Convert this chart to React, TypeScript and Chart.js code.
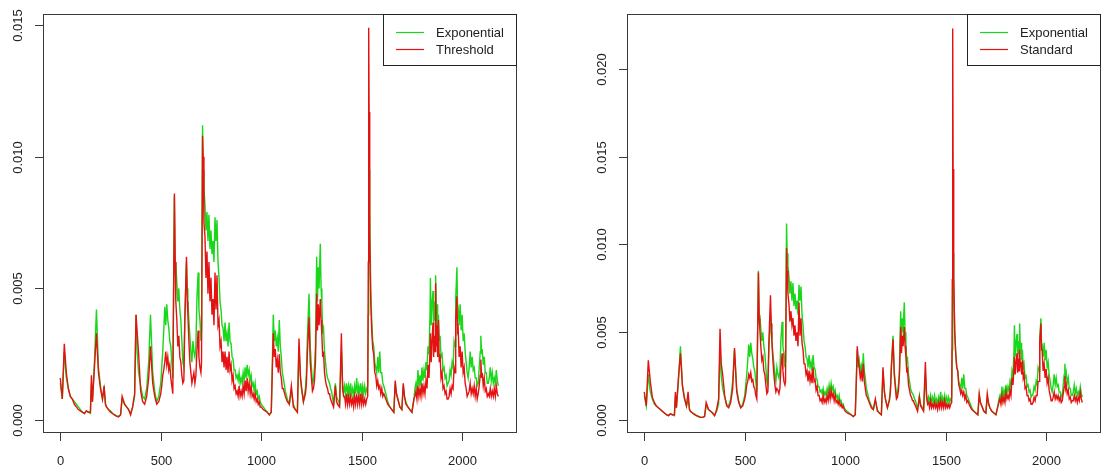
import React, { useEffect, useRef } from "react";
import { Chart, registerables } from "chart.js";

Chart.register(...registerables);

// values are read in units of 1e-4
const UNIT = 1e-4;

const tIdx = [
  0, 10, 20, 30, 40, 50, 60, 70, 80, 90,
  100, 110, 120, 130, 140, 150, 155, 160, 170, 180,
  190, 200, 210, 218, 225, 230, 240, 250, 260, 270,
  280, 290, 300, 308, 320, 330, 340, 350, 360, 370,
  377, 383, 390, 400, 410, 420, 430, 440, 449, 460,
  470, 480, 490, 500, 505, 510, 515, 520, 525, 530,
  535, 540, 545, 550, 555, 560, 568, 572, 575, 580,
  585, 590, 595, 600, 605, 610, 615, 620, 628, 632,
  635, 640, 645, 650, 655, 660, 665, 670, 675, 680,
  686, 690, 695, 700, 703, 708, 711, 715, 720, 725,
  730, 735, 740, 745, 750, 755, 760, 765, 770, 775,
  780, 785, 790, 795, 800, 805, 810, 815, 820, 825,
  830, 835, 840, 845, 850, 855, 860, 865, 870, 875,
  880, 885, 890, 895, 900, 905, 910, 915, 920, 925,
  930, 935, 940, 945, 950, 955, 960, 965, 970, 975,
  980, 985, 990, 995, 1000, 1010, 1020, 1030, 1040, 1050,
  1055, 1060, 1065, 1070, 1075, 1080, 1085, 1090, 1095, 1100,
  1105, 1110, 1120, 1130, 1140, 1150, 1160, 1170, 1180, 1188,
  1195, 1200, 1210, 1220, 1225, 1230, 1238, 1244, 1250, 1255,
  1260, 1265, 1270, 1276, 1280, 1284, 1288, 1294, 1298, 1302,
  1306, 1310, 1315, 1320, 1325, 1330, 1335, 1340, 1345, 1350,
  1360, 1369, 1375, 1380, 1390, 1399, 1405, 1410, 1415, 1420,
  1425, 1430, 1435, 1440, 1445, 1450, 1455, 1460, 1465, 1470,
  1475, 1480, 1485, 1490, 1495, 1500, 1505, 1510, 1515, 1520,
  1525, 1530, 1533, 1535, 1537, 1540, 1545, 1550, 1555, 1560,
  1565, 1570, 1575, 1580, 1585, 1590, 1595, 1600, 1605, 1610,
  1620, 1630, 1640, 1650, 1660, 1667, 1673, 1680, 1690, 1700,
  1707, 1713, 1720, 1730, 1740, 1750, 1760, 1765, 1770, 1775,
  1780, 1785, 1790, 1795, 1800, 1805, 1810, 1815, 1820, 1825,
  1830, 1835, 1840, 1842, 1846, 1850, 1855, 1858, 1862, 1865,
  1868, 1872, 1875, 1878, 1882, 1886, 1890, 1895, 1900, 1905,
  1910, 1915, 1920, 1925, 1930, 1935, 1940, 1945, 1950, 1955,
  1960, 1965, 1968, 1974, 1977, 1980, 1985, 1990, 1995, 2000,
  2005, 2010, 2015, 2020, 2025, 2030, 2035, 2040, 2045, 2050,
  2055, 2060, 2065, 2070, 2075, 2080, 2085, 2090, 2093, 2097,
  2100, 2105, 2110, 2115, 2120, 2125, 2130, 2135, 2140, 2145,
  2150, 2155, 2160, 2165, 2170, 2175, 2180,
];

const expVals = [
  14, 8, 26, 16, 12, 9, 8, 7, 6, 5,
  4, 3, 2.5, 3.5, 3, 2.5, 14, 7, 22, 42,
  20, 13, 8, 12, 6, 5, 4, 3.5, 2.5, 2,
  1.5, 1.5, 2, 8, 6, 5, 4, 2.5, 5, 9,
  40, 25, 18, 13, 9, 8, 12, 22, 40, 18,
  11, 7, 9, 14, 20, 26, 34, 43, 36, 44,
  38, 35, 30, 28, 22, 16, 85, 55, 60, 52,
  45, 50, 42, 38, 30, 22, 20, 40, 60, 50,
  45, 38, 32, 26, 22, 30, 26, 24, 28, 46,
  56, 42, 38, 30, 34, 112, 95, 88, 82, 72,
  79, 68, 78, 65, 72, 63, 68, 60, 77, 68,
  76, 60, 54, 45, 42, 36, 35, 30, 37, 30,
  33, 28, 37, 30, 29, 24, 23, 19, 19, 16,
  17, 15, 18, 14, 16, 14, 18, 15, 20, 16,
  21, 17, 19, 15, 17, 13, 14, 11, 14, 10,
  11, 8, 9, 7, 6, 5, 4, 3, 2, 3,
  20, 40, 30, 34, 28, 31, 26, 38, 28, 24,
  18, 16, 11, 8, 6, 11, 6, 4, 3, 28,
  16, 12, 7, 12, 18, 32, 48, 28, 20, 14,
  15, 20, 28, 62, 45, 58, 50, 67, 50, 44,
  34, 35, 26, 22, 18, 16, 15, 14, 12, 11,
  6, 14, 9, 8, 6, 26, 14, 10, 13, 10,
  14, 10, 13, 10, 14, 10, 12, 9, 13, 10,
  16, 10, 13, 10, 14, 10, 13, 10, 13, 10,
  12, 13, 40, 110, 95, 80, 50, 38, 30, 28,
  22, 20, 18, 24, 18, 26, 18, 18, 14, 13,
  10, 7, 5, 4, 3, 14, 10, 8, 5, 4,
  13, 9, 7, 5, 4, 3, 8, 12, 14, 11,
  19, 13, 17, 13, 20, 15, 19, 16, 22, 19,
  28, 25, 40, 54, 36, 44, 49, 36, 45, 38,
  55, 40, 44, 34, 40, 30, 32, 24, 25, 19,
  20, 16, 17, 13, 14, 15, 19, 17, 22, 20,
  30, 28, 46, 58, 44, 43, 36, 44, 34, 40,
  30, 33, 26, 22, 18, 16, 20, 26, 20, 24,
  19, 20, 16, 16, 13, 14, 20, 26, 32, 25,
  27, 21, 24, 18, 18, 14, 14, 16, 20, 15,
  18, 14, 16, 14, 19, 15, 13,
];

const thrVals = [
  16, 8, 29, 18, 12, 9, 8, 6, 5, 4,
  3.5, 3, 2.5, 3.5, 3, 3, 17, 7, 20, 33,
  18, 12, 8, 13, 6, 5, 4, 3, 2.5, 2,
  1.5, 1.2, 2, 9, 6, 5, 4, 2, 5, 10,
  40, 33, 25, 11, 7, 6, 9, 16, 28, 14,
  9, 6, 7, 10, 13, 17, 19, 22, 26, 21,
  24, 19, 21, 16, 13, 10, 86, 60, 45, 38,
  28, 32, 24, 22, 17, 14, 15, 38, 62, 45,
  40, 30, 22, 18, 14, 16, 18, 14, 17, 26,
  34, 24, 20, 18, 22, 108, 100, 75, 70, 54,
  64, 48, 60, 45, 54, 40, 46, 36, 56, 42,
  55, 36, 38, 28, 30, 22, 26, 20, 26, 19,
  24, 18, 26, 19, 21, 15, 17, 12, 13, 10,
  11, 9, 13, 9, 11, 9, 13, 10, 15, 11,
  16, 11, 14, 10, 13, 9, 10, 8, 10, 7,
  8, 6, 7, 5, 5, 4, 3.5, 3, 2, 3,
  18, 33, 24, 27, 20, 23, 18, 25, 18, 16,
  12, 12, 9, 7, 6, 13, 5, 4, 3, 31,
  17, 13, 7, 10, 14, 26, 39, 22, 16, 11,
  12, 15, 22, 48, 34, 44, 36, 46, 38, 32,
  24, 26, 18, 15, 13, 12, 10, 10, 8, 7,
  5, 13, 7, 6, 5, 33, 12, 9, 9, 6,
  10, 6, 9, 6, 9, 6, 8, 5, 9, 6,
  10, 6, 9, 6, 10, 6, 9, 6, 8, 6,
  8, 9, 60, 149, 117, 70, 45, 34, 27, 25,
  18, 17, 13, 15, 12, 13, 10, 12, 9, 10,
  8, 6, 5, 4, 3, 15, 10, 8, 5, 4,
  14, 9, 6, 5, 4, 3, 8, 9, 11, 8,
  13, 9, 12, 9, 14, 10, 13, 10, 15, 12,
  21, 16, 26, 33, 22, 30, 37, 24, 32, 26,
  52, 28, 36, 24, 38, 22, 25, 16, 18, 12,
  13, 10, 11, 8, 8, 9, 12, 10, 13, 12,
  20, 18, 38, 47, 34, 35, 24, 28, 20, 26,
  18, 20, 14, 12, 9, 10, 11, 14, 10, 12,
  10, 13, 9, 12, 8, 10, 13, 17, 23, 16,
  18, 13, 16, 11, 12, 9, 10, 9, 12, 9,
  11, 9, 12, 9, 13, 10, 9,
];

const stdVals = [
  16, 8, 34, 22, 13, 10, 8, 7, 6, 5,
  4, 3, 2.5, 3.5, 3, 3, 16, 7, 24, 38,
  19, 12, 8, 16, 6, 5, 4, 3, 2.5, 2,
  1.5, 1.5, 2, 10, 6, 5, 4, 2.5, 6, 12,
  52, 32, 26, 14, 8, 7, 10, 18, 41, 16,
  10, 7, 8, 12, 15, 20, 22, 26, 24, 27,
  22, 23, 19, 18, 14, 12, 84, 58, 52, 42,
  34, 36, 28, 26, 20, 15, 16, 44, 71, 55,
  45, 34, 26, 20, 16, 18, 17, 15, 18, 30,
  38, 28, 22, 20, 22, 98, 85, 72, 66, 56,
  62, 54, 58, 48, 54, 45, 50, 42, 67, 48,
  58, 44, 40, 32, 32, 26, 28, 22, 28, 22,
  26, 21, 30, 22, 23, 17, 19, 14, 14, 11,
  12, 10, 14, 10, 12, 10, 14, 11, 16, 12,
  17, 13, 15, 11, 14, 10, 11, 9, 11, 8,
  9, 7, 8, 6, 5, 4, 3.5, 3, 2, 3,
  22, 42, 34, 30, 24, 27, 22, 32, 22, 18,
  14, 13, 10, 7, 6, 12, 5, 4, 3, 30,
  16, 12, 7, 11, 16, 30, 46, 26, 18, 12,
  13, 17, 26, 53, 38, 48, 42, 53, 42, 36,
  28, 29, 20, 17, 14, 13, 11, 11, 9, 8,
  5, 13, 8, 7, 5, 33, 13, 9, 10, 7,
  11, 7, 9, 7, 10, 7, 9, 6, 10, 7,
  11, 7, 10, 7, 11, 7, 9, 7, 9, 7,
  9, 10, 80, 223, 143, 82, 50, 38, 30, 28,
  20, 18, 15, 17, 14, 16, 12, 14, 10, 11,
  8, 6, 5, 4, 3, 15, 10, 8, 5, 4,
  15, 10, 7, 5, 4, 3, 8, 10, 12, 9,
  14, 10, 13, 10, 16, 12, 14, 12, 17, 14,
  24, 20, 30, 36, 26, 33, 38, 27, 35, 28,
  40, 30, 33, 26, 34, 24, 26, 18, 19, 14,
  14, 11, 12, 9, 9, 10, 13, 11, 14, 14,
  22, 22, 44, 55, 40, 40, 28, 32, 24, 29,
  21, 24, 17, 14, 11, 11, 13, 16, 12, 14,
  12, 14, 11, 13, 10, 11, 15, 19, 25, 18,
  20, 15, 17, 12, 13, 10, 11, 11, 14, 11,
  13, 10, 13, 11, 16, 12, 10,
];

const xTicks = [0, 500, 1000, 1500, 2000];
const xTickLabels = ["0", "500", "1000", "1500", "2000"];
const yTicksLeft = [0, 0.005, 0.01, 0.015];
const yTickLabelsLeft = ["0.000", "0.005", "0.010", "0.015"];
const yTicksRight = [0, 0.005, 0.01, 0.015, 0.02];
const yTickLabelsRight = ["0.000", "0.005", "0.010", "0.015", "0.020"];

const GREEN = "rgb(25,215,25)";
const RED = "rgb(228,18,18)";
const FRAME = "#3a3a3a";
const FONT = '13px "Liberation Sans", Arial, Helvetica, sans-serif';

function framePlugin(yTicks: number[], yLabels: string[], legendLabels: string[]) {
  return {
    id: "rframe",
    afterDatasetsDraw(chart: any) {
      const { ctx, chartArea: a, scales } = chart;
      const xs = scales.x;
      const ys = scales.y;
      ctx.save();
      ctx.strokeStyle = FRAME;
      ctx.lineWidth = 1;
      ctx.strokeRect(a.left + 0.5, a.top + 0.5, a.right - a.left - 1, a.bottom - a.top - 1);
      ctx.fillStyle = "#222";
      ctx.font = FONT;
      ctx.textAlign = "center";
      ctx.textBaseline = "middle";
      xTicks.forEach((v, i) => {
        const px = Math.round(xs.getPixelForValue(v)) + 0.5;
        ctx.beginPath();
        ctx.moveTo(px, a.bottom);
        ctx.lineTo(px, a.bottom + 8);
        ctx.stroke();
        ctx.fillText(xTickLabels[i], px, a.bottom + 28);
      });
      yTicks.forEach((v, i) => {
        const py = Math.round(ys.getPixelForValue(v)) + 0.5;
        ctx.beginPath();
        ctx.moveTo(a.left - 8, py);
        ctx.lineTo(a.left, py);
        ctx.stroke();
        ctx.save();
        ctx.translate(a.left - 25, py);
        ctx.rotate(-Math.PI / 2);
        ctx.fillText(yLabels[i], 0, 0);
        ctx.restore();
      });
      const lx = a.left + 340;
      const ly = a.top;
      const lw = a.right - lx;
      const lh = 52;
      ctx.fillStyle = "#fff";
      ctx.fillRect(lx, ly, lw, lh);
      ctx.strokeStyle = "#222";
      ctx.strokeRect(lx + 0.5, ly + 0.5, lw - 1, lh - 1);
      const cols = [GREEN, RED];
      legendLabels.forEach((lab, i) => {
        const yy = ly + 18 + i * 17;
        ctx.strokeStyle = cols[i];
        ctx.lineWidth = 1.2;
        ctx.beginPath();
        ctx.moveTo(lx + 13, yy + 0.5);
        ctx.lineTo(lx + 41, yy + 0.5);
        ctx.stroke();
        ctx.fillStyle = "#222";
        ctx.textAlign = "left";
        ctx.textBaseline = "middle";
        ctx.fillText(lab, lx + 53, yy + 1);
      });
      ctx.restore();
    },
  };
}

type PanelProps = {
  left: number;
  redVals: number[];
  redLabel: string;
  yMin: number;
  yMax: number;
  yTicks: number[];
  yLabels: string[];
};

function Panel({ left, redVals, redLabel, yMin, yMax, yTicks, yLabels }: PanelProps) {
  const ref = useRef<HTMLCanvasElement>(null);
  useEffect(() => {
    const chart = new Chart(ref.current as HTMLCanvasElement, {
      type: "line",
      data: {
        datasets: [
          {
            label: redLabel,
            data: tIdx.map((t, i) => ({ x: t, y: redVals[i] * UNIT })),
            borderColor: RED,
            borderWidth: 1.4,
            order: 0,
          },
          {
            label: "Exponential",
            data: tIdx.map((t, i) => ({ x: t, y: expVals[i] * UNIT })),
            borderColor: GREEN,
            borderWidth: 1.4,
            order: 1,
          },
        ],
      },
      options: {
        responsive: false,
        animation: false,
        layout: { padding: { left: 43, top: 14, right: 33, bottom: 38 } },
        plugins: { legend: { display: false }, tooltip: { enabled: false } },
        elements: { point: { radius: 0 }, line: { tension: 0 } },
        scales: {
          x: { type: "linear", min: -86, max: 2273, display: false },
          y: { type: "linear", min: yMin, max: yMax, display: false },
        },
      },
      plugins: [framePlugin(yTicks, yLabels, ["Exponential", redLabel])],
    } as any);
    return () => chart.destroy();
  }, []);
  return (
    <canvas
      ref={ref}
      width={550}
      height={471}
      style={{ position: "absolute", left, top: 0, width: 550, height: 471 }}
    />
  );
}

export default function App() {
  return (
    <div
      style={{
        position: "fixed",
        left: 0,
        top: 0,
        width: 1101,
        height: 471,
        overflow: "hidden",
        background: "#fff",
      }}
    >
      <Panel
        left={0}
        redVals={thrVals}
        redLabel="Threshold"
        yMin={-0.00049}
        yMax={0.01542}
        yTicks={yTicksLeft}
        yLabels={yTickLabelsLeft}
      />
      <Panel
        left={584}
        redVals={stdVals}
        redLabel="Standard"
        yMin={-0.00074}
        yMax={0.02313}
        yTicks={yTicksRight}
        yLabels={yTickLabelsRight}
      />
    </div>
  );
}
